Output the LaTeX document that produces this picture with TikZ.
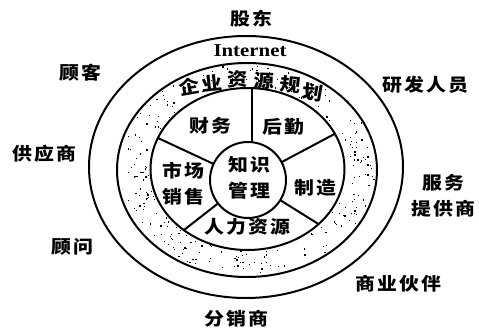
\documentclass[tikz,border=0pt]{standalone}
\usepackage{fontspec}
\usetikzlibrary{calc}
\newfontfamily\cjk[FakeStretch=1.12,LetterSpace=12]{Noto Sans CJK SC}
\newfontfamily\latinserif[FakeStretch=1.15]{Liberation Serif}
\begin{document}
\begin{tikzpicture}[x=0.75pt,y=0.75pt,
  lab/.style={font=\cjk\bfseries\fontsize{13.3}{19.5}\selectfont, inner sep=0pt, align=center},
  erp/.style={font=\cjk\bfseries\fontsize{13.8}{16}\selectfont, inner sep=0pt},
  ring/.style={line width=1.5pt},
  stip/.style={fill=black}]
\useasboundingbox (0,0) rectangle (479,330);
\fill[white] (0,0) rectangle (479,330);
% stippled ring between second ellipse and inner ellipse
\pgfmathsetseed{11}
\foreach \i in {1,...,270}{
  \pgfmathsetmacro\t{rnd*360}
  \pgfmathsetmacro\u{0.08+0.84*rnd}
  \pgfmathsetmacro\s{0.8+0.9*rnd}
  \pgfmathsetmacro\px{247.5-0.5*\u+(97+33*\u)*cos(\t)}
  \pgfmathsetmacro\py{161-1*\u+(81+26*\u)*sin(\t)}
  \fill[stip] (\px,\py) rectangle ++(\s,\s);
}
% ellipses
\draw[ring] (246,163) ellipse[x radius=157,y radius=131];
\draw[ring] (247,160) ellipse[x radius=130,y radius=107];
\draw[ring] (247.5,161) ellipse[x radius=97,y radius=81];
% central circle
\coordinate (km) at (248,150);
\draw[ring] (km) circle[radius=38];
% spokes
\begin{scope}
  \clip (247.5,161) ellipse[x radius=97,y radius=81];
  \foreach \a in {155,28,218,-32}
    \draw[ring] ($(km)+(\a:38)$) -- ($(km)+(\a:200)$);
  \draw[ring] (252,187.8) -- (252,260);
\end{scope}
% outer labels
\node[lab] (gd) at (251,311) {股东};
\node[font=\latinserif\bfseries\fontsize{13.6}{16}\selectfont, inner sep=0pt] (net) at (250,279) {Internet};
\node[lab] (gk) at (80,257) {顾客};
\node[lab] (yf) at (425,245) {研发人员};
\node[lab] (gy) at (44,176) {供应商};
\node[lab] (fw) at (443,134) {服务\\提供商};
\node[lab] (gw) at (72,83) {顾问};
\node[lab] (sy) at (398,46) {商业伙伴};
\node[lab] (fx) at (236,11) {分销商};
% ERP arc text
\node[erp, rotate=10] (e1) at (189,243) {企};
\node[erp, rotate=6] (e2) at (212,247) {业};
\node[erp, rotate=2] (e3) at (238,251) {资};
\node[erp, rotate=-2] (e4) at (264,249) {源};
\node[erp, rotate=-6] (e5) at (290,245) {规};
\node[erp, rotate=-10] (e6) at (313,238) {划};
% inner labels
\node[lab] (cw) at (210,204) {财务};
\node[lab] (hq) at (283,203) {后勤};
\node[lab] (sc) at (183,146) {市场\\销售};
\node[lab] (zs) at (249,152) {知识\\管理};
\node[lab] (zz) at (315,142) {制造};
\node[lab] (rl) at (247,103) {人力资源};
\end{tikzpicture}
\end{document}
